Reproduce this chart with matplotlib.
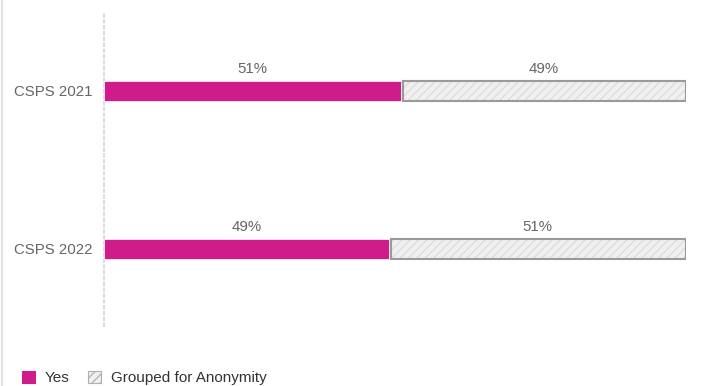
import matplotlib
matplotlib.use("Agg")
import matplotlib.pyplot as plt
from matplotlib.patches import Patch
from matplotlib.lines import Line2D

categories = ["CSPS 2021", "CSPS 2022"]
yes_vals = [51, 49]
grouped_vals = [49, 51]
series_names = ["Yes", "Grouped for Anonymity"]

plt.rcParams['font.family'] = ['Liberation Sans', 'DejaVu Sans']

YES_COLOR = '#d01c8b'
GRP_FACE = '#f0f0f0'
GRP_HATCH = '#dcdcdc'
GRP_EDGE = '#9a9a9a'
TXT = '#666666'

fig = plt.figure(figsize=(7.05, 3.86), dpi=100)
ax = fig.add_axes([104/705, 1-326/386, (686-104)/705, (326-12)/386])

ypos = list(range(len(categories)))
h = 20/158

ax.barh(ypos, yes_vals, height=h, color=YES_COLOR, edgecolor='white', linewidth=0.5, zorder=3)
plt.rcParams['hatch.linewidth'] = 0.9
ax.barh(ypos, grouped_vals, left=yes_vals, height=h, color=GRP_FACE, edgecolor=GRP_HATCH,
        hatch='////', linewidth=0, zorder=3)
ax.barh(ypos, [g - 0.3 for g in grouped_vals], left=[y + 0.3 for y in yes_vals], height=h,
        facecolor='none', edgecolor=GRP_EDGE, linewidth=1.5, zorder=4)

for i in ypos:
    ax.annotate(f"{yes_vals[i]}%", (yes_vals[i]/2, i - h/2), xytext=(0, 3.5), textcoords='offset points',
                ha='center', va='bottom', fontsize=10.8, color=TXT)
    ax.annotate(f"{grouped_vals[i]}%", (yes_vals[i] + grouped_vals[i]/2, i - h/2), xytext=(0, 3.5),
                textcoords='offset points', ha='center', va='bottom', fontsize=10.8, color=TXT)

ax.set_xlim(0, 100)
ax.set_ylim(1 + 77/158, -0.5)
ax.set_yticks(ypos)
ax.set_yticklabels(categories, fontsize=10.8, color=TXT)
ax.tick_params(axis='y', length=0, pad=8.5)
ax.set_xticks([])
for s in ['top', 'right', 'bottom']:
    ax.spines[s].set_visible(False)
ax.spines['left'].set_color('#dddddd')
ax.spines['left'].set_linewidth(1.5)
ax.spines['left'].set_linestyle((0, (1.2, 1.6)))

fig.add_artist(Line2D([2/705, 2/705], [0, 1], transform=fig.transFigure, color='#dddddd', linewidth=1.2))

handles = [Patch(facecolor=YES_COLOR, edgecolor=YES_COLOR, linewidth=0.8),
           Patch(facecolor=GRP_FACE, edgecolor='#b0b0b0', hatch='////', linewidth=0.8)]
leg = fig.legend(handles, series_names, loc='lower left', bbox_to_anchor=(22/705, 1/386),
                 ncol=2, frameon=False, fontsize=11, handlelength=0.85, handleheight=0.85,
                 handletextpad=0.65, columnspacing=1.2, borderpad=0, borderaxespad=0)
for t in leg.get_texts():
    t.set_color('#333333')

fig.savefig("out.png", dpi=100)
